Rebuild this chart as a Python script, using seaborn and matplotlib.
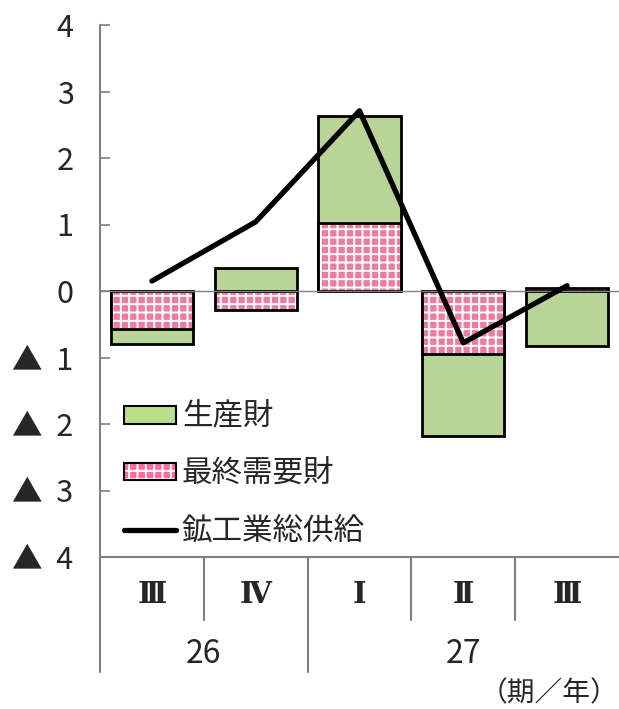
import seaborn as sns
import matplotlib.pyplot as plt
import matplotlib.transforms as transforms
from matplotlib.patches import Patch
from matplotlib.lines import Line2D
import pandas as pd
import numpy as np


# data
quarters = ['Ⅲ', 'Ⅳ', 'Ⅰ', 'Ⅱ', 'Ⅲ']
years = ['26', '26', '27', '27', '27']
producer = [-0.22, 0.35, 1.60, -1.23, -0.83]     # 生産財
final_demand = [-0.57, -0.29, 1.03, -0.95, 0.05]  # 最終需要財
total = [0.15, 1.04, 2.71, -0.78, 0.08]           # 鉱工業総供給
ytick_values = [4, 3, 2, 1, 0, -1, -2, -3, -4]
ytick_labels = ['4', '3', '2', '1', '0', '▲  1', '▲  2', '▲  3', '▲  4']

GREEN = '#B9DE8C'
PINK = '#FF6A9C'
GRAY = '#808080'
FONT = ['Noto Sans CJK JP', 'DejaVu Sans']
ROMAN_FONT = ['DejaVu Serif', 'Noto Sans CJK JP']

sns.set_style('white')
plt.rcParams['font.family'] = FONT
plt.rcParams['hatch.linewidth'] = 1.4


def stacked_layers(prod, fin):
    """Green layer drawn first; stacks on the pink part when signs agree."""
    out = []
    for g, p in zip(prod, fin):
        out.append(g + p if np.sign(g) == np.sign(p) else g)
    return out


df = pd.DataFrame({
    'key': [y + q for y, q in zip(years, quarters)],
    'producer_layer': stacked_layers(producer, final_demand),
    'final_demand': final_demand,
    'total': total,
})

fig = plt.figure(figsize=(6.19, 7.09), dpi=100)
ax = fig.add_axes([100 / 619, (709 - 557) / 709, 519 / 619, 532 / 709])

bar_w = 0.79
sns.barplot(data=df, x='key', y='producer_layer', color=GREEN,
            edgecolor='black', linewidth=2, width=bar_w, ax=ax)
sns.barplot(data=df, x='key', y='final_demand', color=PINK,
            edgecolor='white', linewidth=0, hatch='++', width=bar_w, ax=ax)
sns.barplot(data=df, x='key', y='final_demand', facecolor='none',
            edgecolor='black', linewidth=2, width=bar_w, ax=ax)

ax.axhline(0, color=GRAY, lw=1, zorder=1)

sns.lineplot(x=np.arange(len(total)), y=df['total'], color='black', lw=3.8,
             ax=ax, zorder=5)

ax.set_xlim(-0.5, 4.5)
ax.set_ylim(-4, 4)
ax.set_xlabel('')
ax.set_ylabel('')
ax.set_xticks([])
ax.set_yticks(ytick_values)
ax.set_yticklabels(ytick_labels, fontsize=22)
ax.tick_params(axis='y', direction='in', length=7, color=GRAY, width=1.2,
               pad=19, left=True)

for side in ['top', 'right']:
    ax.spines[side].set_visible(False)
for side in ['left', 'bottom']:
    ax.spines[side].set_color(GRAY)
    ax.spines[side].set_linewidth(1.5)

# category table below the plot
trans = transforms.blended_transform_factory(ax.transData, ax.transAxes)
for x in [0.5, 2.5, 3.5]:
    ax.plot([x, x], [0, -0.118], transform=trans, clip_on=False,
            color=GRAY, lw=1.5)
for x in [-0.5, 1.5]:
    ax.plot([x, x], [0, -0.216], transform=trans, clip_on=False,
            color=GRAY, lw=1.5)
for i, q in enumerate(quarters):
    ax.text(i, -0.071, q, transform=trans, ha='center', va='center',
            fontsize=21, fontweight='bold', family=ROMAN_FONT)
ax.text(0.5, -0.182, '26', transform=trans, ha='center', va='center',
        fontsize=23)
ax.text(3.0, -0.182, '27', transform=trans, ha='center', va='center',
        fontsize=23)
ax.text(0.998, -0.257, '（期／年）', transform=ax.transAxes, ha='right',
        va='center', fontsize=20)

handles = [
    Patch(facecolor=GREEN, edgecolor='black', linewidth=1.5),
    (Patch(facecolor=PINK, edgecolor='white', linewidth=0, hatch='++'),
     Patch(facecolor='none', edgecolor='black', linewidth=1.5)),
    Line2D([0], [0], color='black', lw=3.8),
]
labels = ['生産財', '最終需要財', '鉱工業総供給']
ax.legend(handles, labels, loc='upper left', bbox_to_anchor=(0.046, 0.292),
          frameon=False, fontsize=22, handlelength=1.7, handleheight=0.5,
          handletextpad=0.2, labelspacing=0.85, borderaxespad=0,
          borderpad=0)

fig.savefig('out.png', dpi=100)
